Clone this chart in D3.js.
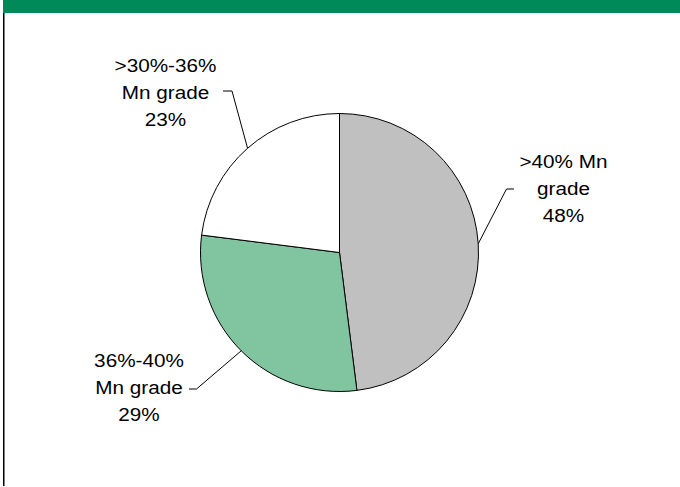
<!DOCTYPE html>
<html>
<head>
<meta charset="utf-8">
<script src="https://cdn.jsdelivr.net/npm/d3@7"></script>
<style>
  html, body { margin: 0; padding: 0; background: #fff; }
  svg { display: block; }
  text { font-family: "Liberation Sans", Arial, sans-serif; fill: #000; }
</style>
</head>
<body>
<svg id="chart" width="680" height="487"></svg>
<script>
// Manganese ore reserves by grade
const categories = [">40% Mn grade", "36%-40% Mn grade", ">30%-36% Mn grade"];
const shares = [48, 29, 23];
const labelLines = [
  [">40% Mn", "grade", "48%"],
  ["36%-40%", "Mn grade", "29%"],
  [">30%-36%", "Mn grade", "23%"]
];
const sliceColors = ["#c0c0c0", "#80c4a0", "#ffffff"];

const W = 680, H = 487;
const svg = d3.select("#chart");

// header band and left frame rule
svg.append("rect").attr("x", 3).attr("y", 0).attr("width", W - 3).attr("height", 13)
  .attr("fill", "#008a5a");
svg.append("line").attr("x1", 3.75).attr("x2", 3.75).attr("y1", 13).attr("y2", 486)
  .attr("stroke", "#000").attr("stroke-width", 1.5);

const cx = 339.5, cy = 252.5, r = 139;
const g = svg.append("g").attr("transform", `translate(${cx},${cy})`);

const pie = d3.pie().sort(null).value(d => d);
const arcs = pie(shares);
const arc = d3.arc().innerRadius(0).outerRadius(r);

const color = d3.scaleOrdinal().domain(categories).range(sliceColors);

g.selectAll("path.slice")
  .data(arcs)
  .join("path")
  .attr("class", "slice")
  .attr("d", arc)
  .attr("fill", (d, i) => color(categories[i]))
  .attr("stroke", "#000")
  .attr("stroke-width", 1)
  .attr("stroke-linejoin", "round");

// label placement: elbow of the leader line, text centre, first baseline
const labelLayout = [
  { elbow: [514, 189], knee: [506.5, 189], tx: 563.5, ty: 168 },
  { elbow: [189, 389], knee: [196.5, 389], tx: 139, ty: 367 },
  { elbow: [223, 91], knee: [232, 91], tx: 165.5, ty: 72 }
];

const lineGap = 26.8;
const fontSize = 18.5;

arcs.forEach((a, i) => {
  const mid = (a.startAngle + a.endAngle) / 2;
  const px = cx + r * Math.sin(mid);
  const py = cy - r * Math.cos(mid);
  const L = labelLayout[i];
  svg.append("polyline")
    .attr("points", [L.elbow, L.knee, [px, py]].map(p => p.join(",")).join(" "))
    .attr("fill", "none")
    .attr("stroke", "#000")
    .attr("stroke-width", 1);

  labelLines[i].forEach((t, k) => {
    svg.append("text")
      .attr("transform", `translate(${L.tx},${L.ty + k * lineGap}) scale(1.12,1)`)
      .attr("text-anchor", "middle")
      .attr("font-size", fontSize)
      .text(t);
  });
});
</script>
</body>
</html>
